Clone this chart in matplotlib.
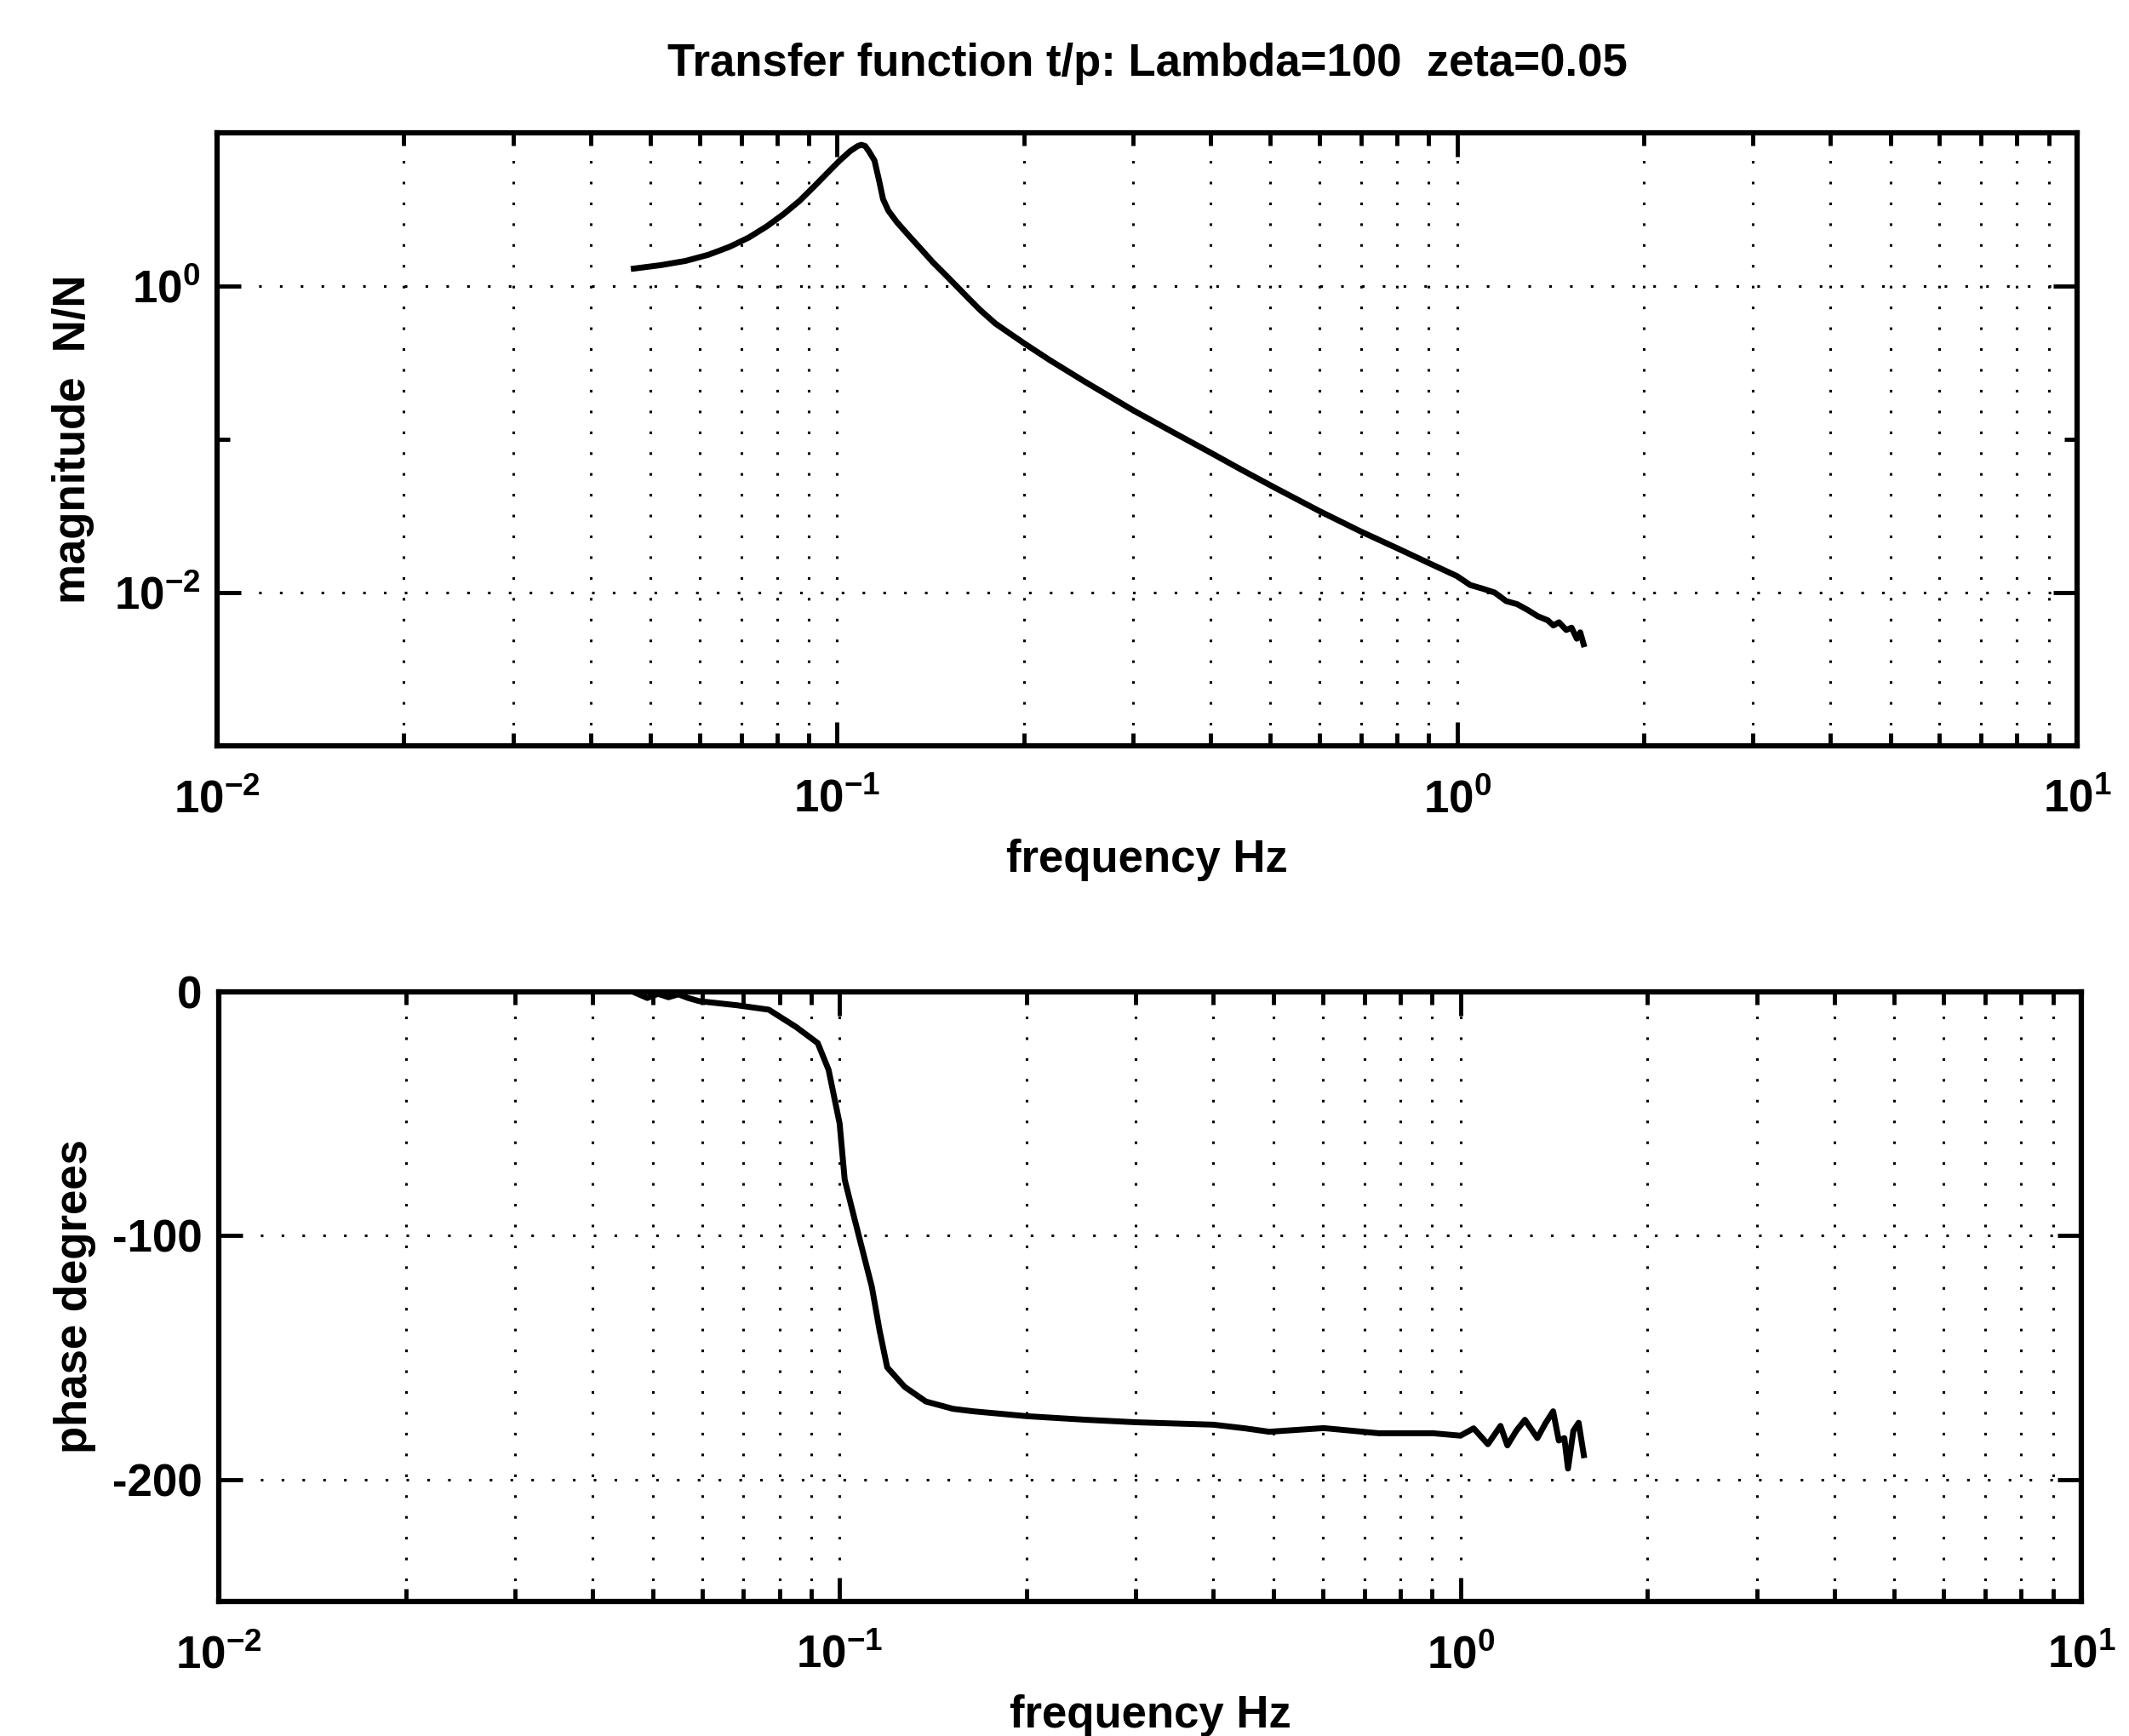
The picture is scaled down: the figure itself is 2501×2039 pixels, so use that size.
import matplotlib
matplotlib.use("Agg")
import matplotlib.pyplot as plt
from matplotlib.ticker import FixedLocator, LogLocator, NullFormatter

plt.rcParams['font.family'] = ['Liberation Sans', 'DejaVu Sans']
plt.rcParams['font.weight'] = 'bold'
plt.rcParams['mathtext.fontset'] = 'custom'
plt.rcParams['mathtext.rm'] = 'Liberation Sans:bold'
plt.rcParams['mathtext.default'] = 'regular'

# magnitude
freq_mag = [0.047, 0.052, 0.057, 0.062, 0.067, 0.072, 0.077, 0.082, 0.087, 0.092,
            0.097, 0.101, 0.105, 0.108, 0.1094, 0.111, 0.1125, 0.1149, 0.117, 0.1186,
            0.121, 0.125, 0.131, 0.137, 0.1425, 0.150, 0.157, 0.163, 0.170, 0.180,
            0.190, 0.20, 0.22, 0.25, 0.30, 0.35, 0.40, 0.45, 0.51, 0.60,
            0.70, 0.80, 0.90, 1.00, 1.05, 1.10, 1.15, 1.20, 1.25, 1.30,
            1.35, 1.40, 1.43, 1.46, 1.50, 1.53, 1.56, 1.58, 1.60]
mag = [1.30, 1.37, 1.46, 1.60, 1.80, 2.07, 2.45, 2.95, 3.6, 4.5,
       5.6, 6.6, 7.6, 8.2, 8.35, 8.2, 7.6, 6.6, 4.8, 3.7,
       3.1, 2.6, 2.1, 1.72, 1.44, 1.17, 0.97, 0.83, 0.70, 0.57,
       0.49, 0.425, 0.33, 0.24, 0.155, 0.11, 0.082, 0.063, 0.048, 0.034,
       0.025, 0.0195, 0.0156, 0.0128, 0.0112, 0.0106, 0.0100, 0.0088, 0.0084, 0.0077,
       0.0070, 0.0066, 0.0061, 0.0064, 0.0057, 0.0059, 0.0050, 0.0055, 0.0046]

# phase
freq_ph = [0.047, 0.049, 0.051, 0.053, 0.055, 0.057, 0.0594, 0.0684, 0.0769, 0.0851,
           0.0922, 0.0960, 0.1000, 0.1019, 0.1059, 0.1127, 0.1160, 0.1193, 0.1273, 0.1377,
           0.1523, 0.1641, 0.20, 0.25, 0.30, 0.40, 0.45, 0.492, 0.602, 0.738,
           0.903, 1.00, 1.05, 1.107, 1.16, 1.19, 1.23, 1.27, 1.33, 1.37,
           1.41, 1.44, 1.47, 1.49, 1.52, 1.55, 1.58]
phase = [-0.5, -2.5, -0.8, -2.2, -1.0, -2.5, -3.8, -5.5, -7.3, -14.4,
         -21, -32, -54, -77, -94, -121, -139, -154, -162, -168,
         -171, -172, -174, -175.5, -176.5, -177.5, -179, -180.4, -178.9, -181,
         -181, -182, -179, -185.5, -178, -186, -180, -175.5, -183, -177,
         -172, -184, -183, -195.5, -180, -176.7, -190]

W, H = 2501, 2039
fig = plt.figure(figsize=(W / 100, H / 100), dpi=100)
ax1 = fig.add_axes([255 / W, 1 - 876 / H, (2440 - 255) / W, (876 - 156) / H])
ax2 = fig.add_axes([257 / W, 1 - 1881 / H, (2445 - 257) / W, (1881 - 1165) / H])

fs = 38
grid_kw = dict(color='black', linestyle=(0, (1, 7)), linewidth=2.2)

for ax in (ax1, ax2):
    ax.set_xscale('log')
    ax.set_xlim(1e-2, 1e1)
    ax.xaxis.set_major_locator(FixedLocator([1e-2, 1e-1, 1e0, 1e1]))
    ax.xaxis.set_minor_locator(LogLocator(base=10, subs=range(2, 10), numticks=20))
    ax.xaxis.set_minor_formatter(NullFormatter())
    ax.grid(True, which='both', axis='x', **grid_kw)
    ax.grid(True, which='major', axis='y', **grid_kw)
    ax.tick_params(which='both', direction='in', top=True, right=True, width=3.5,
                   labelsize=fs)
    ax.tick_params(which='major', length=20)
    ax.tick_params(which='minor', length=11)
    ax.tick_params(axis='x', pad=28)
    ax.tick_params(axis='y', pad=14)
    for sp in ax.spines.values():
        sp.set_linewidth(4.5)
    ax.set_xlabel('frequency Hz', fontsize=fs, fontweight='bold', labelpad=14)

ax1.plot(freq_mag, mag, color='black', linewidth=5)
ax1.set_yscale('log')
ax1.set_ylim(1e-3, 1e1)
ax1.yaxis.set_major_locator(FixedLocator([1e-2, 1e0]))
ax1.yaxis.set_minor_locator(FixedLocator([1e-1]))
ax1.yaxis.set_minor_formatter(NullFormatter())
ax1.set_ylabel('magnitude  N/N', fontsize=fs, fontweight='bold')
ax1.yaxis.set_label_coords(-0.066, 0.5)
ax1.set_title('Transfer function t/p: Lambda=100  zeta=0.05', fontsize=fs,
              fontweight='bold', pad=48)

ax2.plot(freq_ph, phase, color='black', linewidth=5)
ax2.set_ylim(-250, 0)
ax2.set_yticks([-200, -100, 0])
ax2.set_yticklabels(['-200', '-100', '0'])
ax2.set_ylabel('phase degrees', fontsize=fs, fontweight='bold')
ax2.yaxis.set_label_coords(-0.066, 0.5)

fig.savefig('out.png', dpi=100)
